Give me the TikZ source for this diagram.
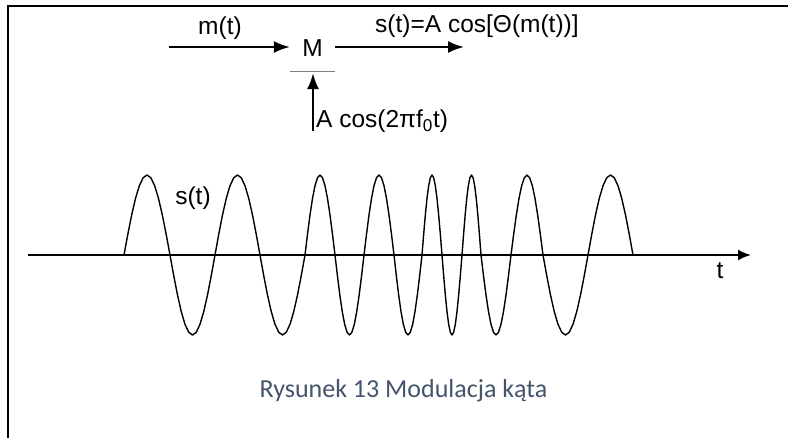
\documentclass[tikz,border=0pt]{standalone}
\usepackage{fontspec}
\setmainfont{Liberation Sans}
\newfontfamily\capfont{Carlito}
\usetikzlibrary{arrows.meta}
\definecolor{capcol}{HTML}{44546A}
\tikzset{
  lbl/.style={font=\fontsize{24.5}{28}\selectfont, inner sep=0pt},
  arr/.style={line width=2pt, -{Latex[length=16pt,width=12pt]}},
  frame/.style={line width=2.2pt, line cap=rect},
  wave/.style={line width=1.4pt, line join=round},
  axis/.style={line width=2pt, -{Latex[length=13pt,width=11pt]}}
}
\begin{document}
\begin{tikzpicture}[x=1pt,y=-1pt]
\useasboundingbox (0,0) rectangle (788,437);
% frame
\coordinate (ftr) at (788,6);
\coordinate (ftl) at (8,6);
\coordinate (fbl) at (8,437);
\draw[frame] (ftr) -- (ftl) -- (fbl);
% block
\node[lbl, minimum width=45pt, minimum height=46pt] (M) at (312.5,48) {M};
\draw[line width=1pt, gray] (M.south west) -- (M.south east);
\coordinate (min) at (169,47);
\coordinate (mout) at (464,47);
\coordinate (cin) at (313,131);
\draw[arr] (min) -- (M.west |- min);
\draw[arr] (M.east |- mout) -- (mout);
\draw[arr] (cin) -- ([yshift=-2pt]M.south -| cin);
\node[lbl] (mt) at (220,28) {m(t)};
\node[lbl, anchor=west] (st) at (375,26) {s(t)=A cos[Θ(m(t))]};
\node[lbl, anchor=west] (car) at (316,121) {A cos(2πf\textsubscript{0}t)};
% axis
\coordinate (ax0) at (28,255);
\coordinate (ax1) at (751,255);
\draw[axis] (ax0) -- (ax1);
\node[lbl] (tl) at (720,271) {t};
% wave
\draw[wave] (124,255)
  \foreach \a/\b/\s in {124/170/1,170/215/-1,215/260/1,260/305/-1,305/335/1,335/364/-1,364/394/1,394/422/-1,422/442/1,442/462/-1,462/481/1,481/511/-1,511/543/1,543/588/-1,588/633/1}
  { -- plot[domain=0:180,samples=13] ({\a+(\b-\a)*\x/180},{255-\s*80*sin(\x)}) };
\node[lbl] (sl) at (193,198) {s(t)};
% caption
\node[font=\capfont\fontsize{26}{30}\selectfont, text=capcol, inner sep=0pt, anchor=base] (cap) at (403.5,397) {Rysunek 13 Modulacja kąta};
\end{tikzpicture}
\end{document}
